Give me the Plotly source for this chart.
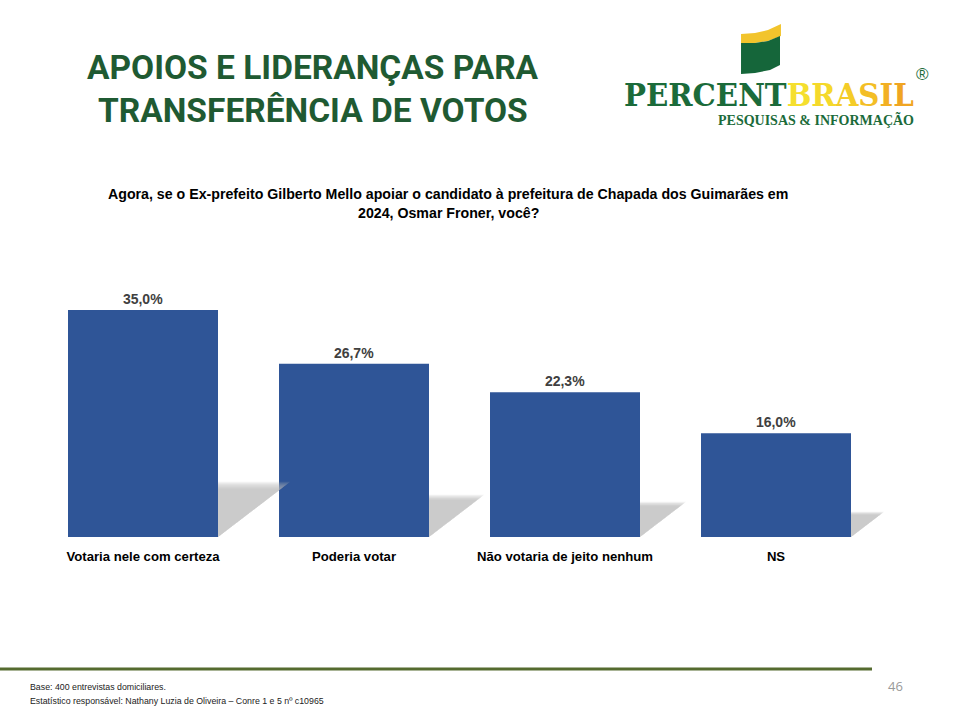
import plotly.graph_objects as go

categories = ["Votaria nele com certeza", "Poderia votar", "Não votaria de jeito nenhum", "NS"]
values = [35.0, 26.7, 22.3, 16.0]
value_labels = ["35,0%", "26,7%", "22,3%", "16,0%"]

W, H = 960, 720
BASE_PX, PX_PER_UNIT, STEP = 537, 227 / 35.0, 211
BLUE, GREEN = "#2F5597", "#1F5A32"

def px(x): return x / W
def py(y): return 1 - y / H

fig = go.Figure()

# soft shadow behind each bar, derived from the bar's value
half = 150 / 2 / STEP
for grow in [1.06, 1.04, 1.02, 1.0, .98, .96, .94, .92]:
    for i, v in enumerate(values):
        r = i + half
        h = v * 0.23 * grow
        d = v * 1.95 * grow / STEP
        fig.add_trace(go.Scatter(
            x=[r, r, r + d, r], y=[0, h, h, 0],
            mode="lines", fill="toself", line=dict(width=0),
            fillcolor="rgba(185,185,185,0.14)", hoverinfo="skip", showlegend=False))

fig.add_trace(go.Bar(
    x=list(range(4)), y=values, width=150 / STEP, marker=dict(color=BLUE, line=dict(width=0)),
    text=value_labels, textposition="outside", cliponaxis=False,
    textfont=dict(family="Liberation Sans", size=14, color="#404040", weight="bold"),
    showlegend=False))

ann = []
def T(x, y, s, size, color="#000", family="Liberation Sans", anchor="center", bold=True):
    ann.append(dict(xref="paper", yref="paper", x=px(x), y=py(y), text=f"<b>{s}</b>" if bold else s,
                    showarrow=False, xanchor=anchor, yanchor="middle", align="center",
                    font=dict(family=family, size=size, color=color)))

T(313, 67, "APOIOS E LIDERANÇAS PARA", 33.5, GREEN, "Roboto")
T(313, 110, "TRANSFERÊNCIA DE VOTOS", 33.5, GREEN, "Roboto")
T(448, 194, "Agora, se o Ex-prefeito Gilberto Mello apoiar o candidato à prefeitura de Chapada dos Guimarães em", 14.2)
T(448, 213, "2024, Osmar Froner, você?", 14.2)
T(28, 687, "Base: 400 entrevistas domiciliares.", 8.8, "#222", anchor="left", bold=False)
T(28, 701, "Estatístico responsável: Nathany Luzia de Oliveira – Conre 1 e 5 nº c10965", 8.8, "#222", anchor="left", bold=False)
T(895, 686, "46", 13, "#999999", "Open Sans", bold=False)

# logo text
logo = ("<span style='color:#1B6B3A'>PERCENT</span>"
        "<span style='color:#F5DF2E'>B</span><span style='color:#F5D92B'>R</span>"
        "<span style='color:#F4CC28'>A</span><span style='color:#F3BE26'>S</span>"
        "<span style='color:#F2B024'>I</span><span style='color:#F0A522'>L</span>")
T(768.5, 95, logo, 32.5, family="DejaVu Serif Condensed")
T(816, 120, "PESQUISAS &amp; INFORMAÇÃO", 14, "#1B6B3A", "Liberation Serif")
T(922, 75, "®", 17, "#1B6B3A", "Liberation Sans", bold=False)

def path(points):
    return "M " + " L ".join(f"{px(a):.4f},{py(b):.4f}" for a, b in points) + " Z"

shapes = [
    dict(type="path", xref="paper", yref="paper", fillcolor="#F2C42C", line=dict(width=0),
         path=path([(741, 34), (755, 33), (768, 30), (781, 24), (781, 36), (768, 41), (755, 43), (741, 43)])),
    dict(type="path", xref="paper", yref="paper", fillcolor="#15663A", line=dict(width=0),
         path=path([(741, 43), (755, 43), (768, 41), (780, 36), (780, 65), (770, 70), (755, 73), (741, 74)])),
    dict(type="rect", xref="paper", yref="paper", x0=0, x1=px(872), y0=py(670.5), y1=py(667.5),
         fillcolor="#556B2F", line=dict(width=0)),
]

fig.update_layout(
    width=W, height=H, margin=dict(l=0, r=0, t=0, b=0),
    paper_bgcolor="white", plot_bgcolor="rgba(0,0,0,0)", showlegend=False,
    annotations=ann, shapes=shapes,
    xaxis=dict(domain=[0, 1], range=[-143 / STEP, (W - 143) / STEP], tickmode="array",
               tickvals=list(range(4)), ticktext=[f"<b>{c}</b>" for c in categories],
               tickfont=dict(family="Liberation Sans", size=13.15, color="#000"),
               showgrid=False, zeroline=False, showline=False, ticks="outside", ticklen=7, tickcolor="rgba(0,0,0,0)"),
    yaxis=dict(domain=[(H - BASE_PX) / H, 1], range=[0, BASE_PX / PX_PER_UNIT], visible=False),
)
fig.write_html("out.html", config={"displayModeBar": False}, post_script="document.body.style.margin='0';")
